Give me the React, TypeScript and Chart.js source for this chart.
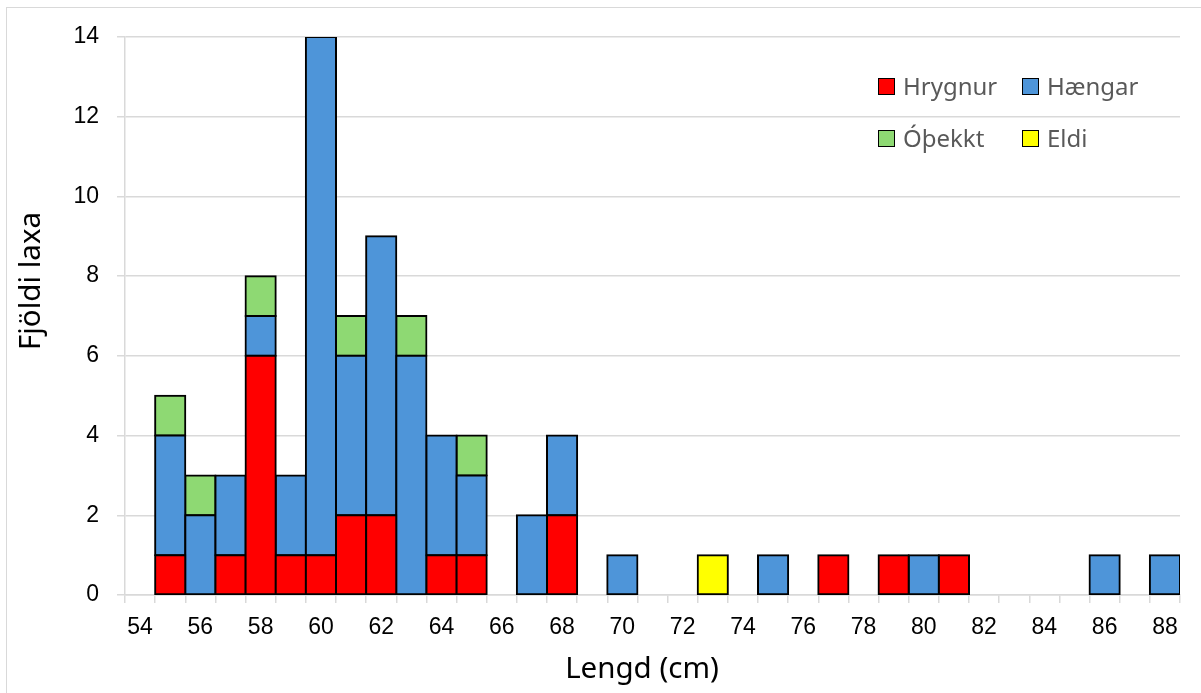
import React, { useEffect, useRef } from "react";
import { Chart, registerables } from "chart.js";

Chart.register(...registerables);

const lengths = ["54","55","56","57","58","59","60","61","62","63","64","65","66","67","68","69","70","71","72","73","74","75","76","77","78","79","80","81","82","83","84","85","86","87","88"];
const hrygnur = [0,1,0,1,6,1,1,2,2,0,1,1,0,0,2,0,0,0,0,0,0,0,0,1,0,1,0,1,0,0,0,0,0,0,0];
const haengar = [0,3,2,2,1,2,13,4,7,6,3,2,0,2,2,0,1,0,0,0,0,1,0,0,0,0,1,0,0,0,0,0,1,0,1];
const othekkt = [0,1,1,0,1,0,0,1,0,1,0,1,0,0,0,0,0,0,0,0,0,0,0,0,0,0,0,0,0,0,0,0,0,0,0];
const eldi = [0,0,0,0,0,0,0,0,0,0,0,0,0,0,0,0,0,0,0,1,0,0,0,0,0,0,0,0,0,0,0,0,0,0,0];
const yTicks = [0, 2, 4, 6, 8, 10, 12, 14];

const seriesNames = ["Hrygnur", "Hængar", "Óþekkt", "Eldi"];
const seriesColors = ["#FF0000", "#4E95D9", "#8ED973", "#FFFF00"];
const xTitle = "Lengd (cm)";
const yTitle = "Fjöldi laxa";

const TITLE_FONT = "'Noto Sans', 'Open Sans', sans-serif";
const TICK_FONT = "'Liberation Sans', Arial, sans-serif";

export default function App() {
  const canvasRef = useRef<HTMLCanvasElement | null>(null);

  useEffect(() => {
    const canvas = canvasRef.current;
    if (!canvas) return;

    const titlePlugin = {
      id: "axisTitles",
      afterDraw(chart: any) {
        const ctx = chart.ctx;
        ctx.save();
        ctx.fillStyle = "#000000";
        ctx.font = `29.5px ${TITLE_FONT}`;
        ctx.textAlign = "center";
        ctx.textBaseline = "middle";
        ctx.fillText(xTitle, 642, 670);
        ctx.translate(32, 281);
        ctx.rotate(-Math.PI / 2);
        ctx.fillText(yTitle, 0, 0);
        ctx.restore();
      },
    };

    const allSeries = [hrygnur, haengar, othekkt, eldi];
    const chart = new Chart(canvas, {
      type: "bar",
      data: {
        labels: lengths,
        datasets: allSeries.map((d, i) => ({
          label: seriesNames[i],
          data: d,
          backgroundColor: seriesColors[i],
          borderColor: "#000000",
          borderWidth: 2,
          borderSkipped: false,
          inflateAmount: 1,
          barPercentage: 1,
          categoryPercentage: 1,
        })),
      },
      options: {
        animation: false,
        responsive: false,
        devicePixelRatio: 1,
        layout: { padding: { left: 0, right: 21, top: 37, bottom: 0 } },
        plugins: {
          legend: { display: false },
          tooltip: { enabled: false },
        },
        scales: {
          x: {
            stacked: true,
            offset: true,
            grid: {
              offset: true,
              drawOnChartArea: false,
              drawTicks: true,
              tickLength: 8,
              color: "#D9D9D9",
              lineWidth: 1.5,
            },
            border: { color: "#D9D9D9", width: 1.5 },
            ticks: {
              autoSkip: false,
              maxRotation: 0,
              minRotation: 0,
              padding: 11,
              color: "#000000",
              font: { family: TICK_FONT, size: 23 },
              callback: (_v: any, i: number) => (i % 2 === 0 ? lengths[i] : ""),
            },
            afterFit: (scale: any) => {
              scale.height = 98;
            },
          },
          y: {
            stacked: true,
            min: yTicks[0],
            max: yTicks[yTicks.length - 1],
            afterBuildTicks: (scale: any) => {
              scale.ticks = yTicks.map((v) => ({ value: v }));
            },
            grid: {
              color: "#D9D9D9",
              lineWidth: 1.5,
              drawTicks: true,
              tickLength: 8,
            },
            border: { color: "#D9D9D9", width: 1.5 },
            ticks: {
              padding: 18,
              color: "#000000",
              font: { family: TICK_FONT, size: 23 },
            },
            afterFit: (scale: any) => {
              scale.width = 125;
            },
          },
        },
      },
      plugins: [titlePlugin],
    });

    return () => chart.destroy();
  }, []);

  const legendItem = (i: number, left: number, top: number) => (
    <div
      key={i}
      style={{
        position: "absolute",
        left,
        top,
        display: "flex",
        alignItems: "center",
        height: 24,
      }}
    >
      <div
        style={{
          width: 15,
          height: 15,
          background: seriesColors[i],
          border: "1px solid #000",
          marginRight: 8,
        }}
      />
      <span
        style={{
          fontFamily: TITLE_FONT,
          fontSize: 24,
          color: "#595959",
          lineHeight: "24px",
          whiteSpace: "nowrap",
        }}
      >
        {seriesNames[i]}
      </span>
    </div>
  );

  return (
    <div
      style={{
        position: "absolute",
        left: 0,
        top: 0,
        width: 1201,
        height: 693,
        overflow: "hidden",
        background: "#ffffff",
      }}
    >
      <div
        style={{
          position: "absolute",
          left: 6,
          top: 7,
          width: 1400,
          height: 900,
          border: "1.5px solid #D9D9D9",
        }}
      />
      <canvas
        ref={canvasRef}
        width={1201}
        height={693}
        style={{ position: "absolute", left: 0, top: 0, width: 1201, height: 693 }}
      />
      {legendItem(0, 878, 74)}
      {legendItem(1, 1022, 74)}
      {legendItem(2, 878, 126)}
      {legendItem(3, 1022, 126)}
    </div>
  );
}
